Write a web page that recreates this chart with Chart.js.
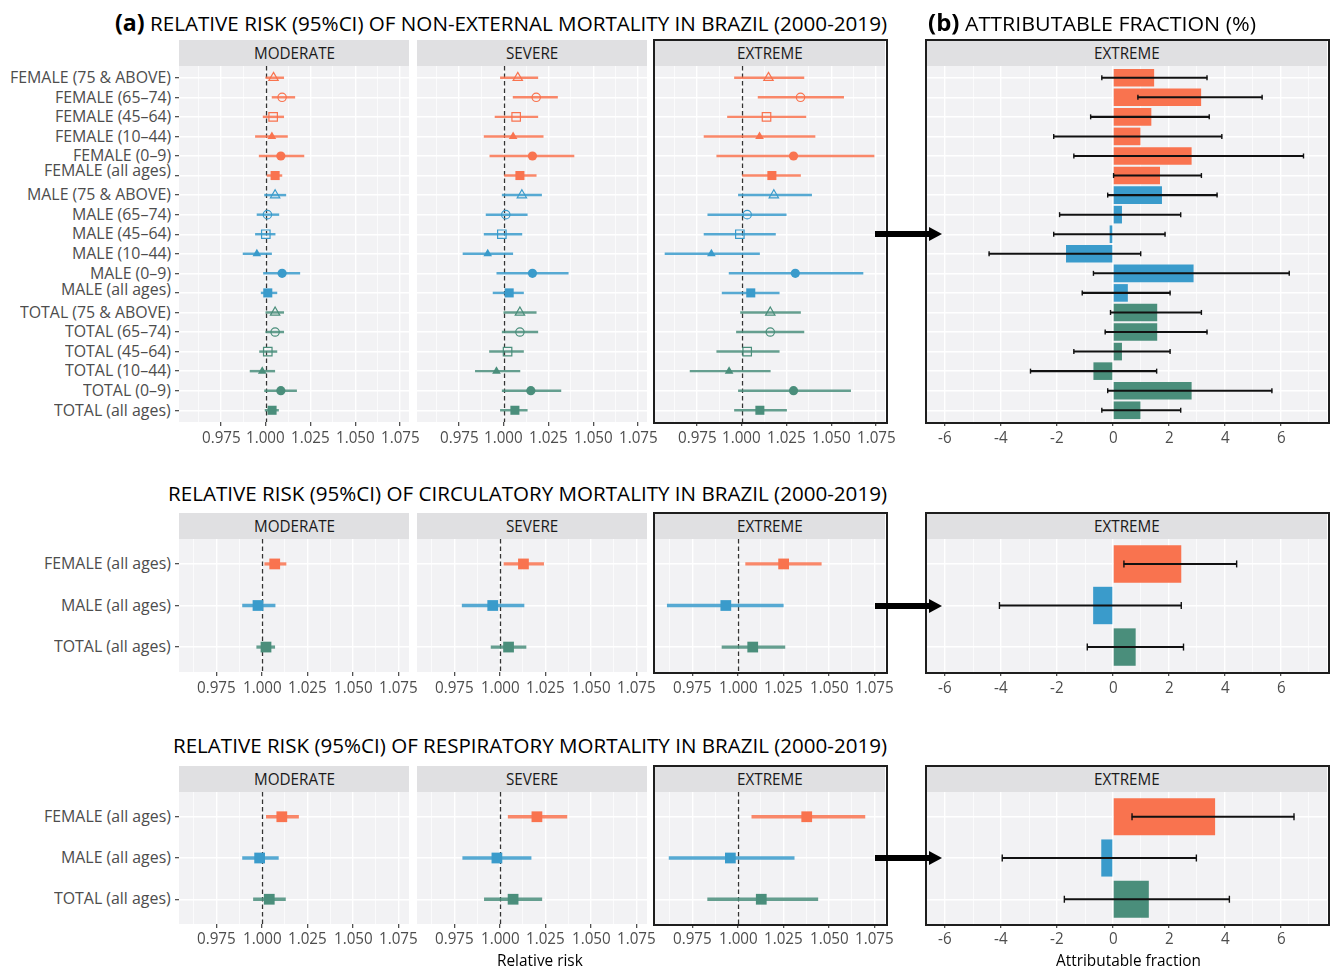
<!DOCTYPE html>
<html><head><meta charset="utf-8">
<script src="https://cdn.jsdelivr.net/npm/chart.js@4"></script>
<style>
html,body{margin:0;padding:0;background:#fff;}
body{width:1330px;height:970px;position:relative;overflow:hidden;font-family:'Open Sans',sans-serif;}
canvas{position:absolute;}
.txt{position:absolute;white-space:nowrap;transform-origin:0 50%;line-height:1;font-family:'Open Sans',sans-serif;}
.strip{position:absolute;background:#E0E0E2;}
.frame{position:absolute;border:2.5px solid #1e1e1e;box-sizing:border-box;}
.arr{position:absolute;background:#000;}
.head{position:absolute;width:0;height:0;border-top:7px solid transparent;border-bottom:7px solid transparent;border-left:13px solid #000;}
</style></head><body>
<script>
// ---------------- DATA ----------------
const catsNonExt = ['FEMALE (75 & ABOVE)','FEMALE (65–74)','FEMALE (45–64)','FEMALE (10–44)','FEMALE (0–9)','FEMALE (all ages)',
  'MALE (75 & ABOVE)','MALE (65–74)','MALE (45–64)','MALE (10–44)','MALE (0–9)','MALE (all ages)',
  'TOTAL (75 & ABOVE)','TOTAL (65–74)','TOTAL (45–64)','TOTAL (10–44)','TOTAL (0–9)','TOTAL (all ages)'];
const catsAll = ['FEMALE (all ages)','MALE (all ages)','TOTAL (all ages)'];

const rrTicks = [0.975, 1.000, 1.025, 1.050, 1.075];
const rrTickLabels = ['0.975','1.000','1.025','1.050','1.075'];
const rrMinor = [0.9625, 0.9875, 1.0125, 1.0375, 1.0625];
const afTicks = [-6, -4, -2, 0, 2, 4, 6];
const afTickLabels = ['-6','-4','-2','0','2','4','6'];
const afMinor = [-5, -3, -1, 1, 3, 5, 7];

// Non-external mortality: relative risk (point, lower, upper)
const neModRR = [1.0043,1.0091,1.0041,1.0034,1.0084,1.0052, 1.0052,1.0009,1.0000,0.9950,1.0091,1.0011, 1.0052,1.0052,1.0011,0.9980,1.0084,1.0035];
const neModLo = [1.0000,1.0035,0.9985,0.9942,0.9963,1.0007, 0.9993,0.9951,0.9942,0.9873,0.9987,0.9974, 1.0000,1.0000,0.9965,0.9912,0.9993,0.9996];
const neModHi = [1.0100,1.0162,1.0100,1.0121,1.0213,1.0090, 1.0112,1.0073,1.0052,1.0032,1.0190,1.0062, 1.0100,1.0100,1.0062,1.0050,1.0172,1.0071];
const neSevRR = [1.0078,1.0181,1.0069,1.0052,1.0160,1.0090, 1.0101,1.0011,0.9989,0.9910,1.0160,1.0030, 1.0090,1.0090,1.0021,0.9959,1.0151,1.0062];
const neSevLo = [0.9981,1.0052,0.9951,0.9890,0.9922,1.0004, 0.9991,0.9901,0.9890,0.9772,0.9961,0.9940, 1.0000,0.9991,0.9920,0.9841,0.9991,0.9981];
const neSevHi = [1.0190,1.0300,1.0190,1.0220,1.0392,1.0181, 1.0211,1.0131,1.0101,1.0050,1.0360,1.0110, 1.0181,1.0190,1.0110,1.0090,1.0319,1.0131];
const neExtRR = [1.0149,1.0328,1.0138,1.0099,1.0289,1.0168, 1.0179,1.0030,0.9989,0.9830,1.0299,1.0050, 1.0159,1.0159,1.0030,0.9929,1.0289,1.0101];
const neExtLo = [0.9959,1.0091,0.9920,0.9789,0.9860,1.0004, 0.9981,0.9810,0.9789,0.9571,0.9929,0.9890, 0.9993,0.9970,0.9860,0.9711,0.9981,0.9959];
const neExtHi = [1.0347,1.0569,1.0358,1.0409,1.0739,1.0328, 1.0390,1.0248,1.0188,1.0099,1.0677,1.0209, 1.0328,1.0347,1.0209,1.0159,1.0608,1.0250];
// Non-external mortality: attributable fraction (%)
const neAF   = [1.47,3.15,1.37,0.98,2.81,1.68, 1.75,0.32,-0.12,-1.68,2.88,0.53, 1.58,1.58,0.32,-0.70,2.81,0.98];
const neAFLo = [-0.40,0.89,-0.80,-2.12,-1.40,0.02, -0.19,-1.91,-2.12,-4.43,-0.70,-1.10, -0.09,-0.28,-1.40,-2.95,-0.19,-0.40];
const neAFHi = [3.36,5.33,3.44,3.89,6.81,3.16, 3.72,2.42,1.86,0.99,6.30,2.04, 3.16,3.36,2.04,1.56,5.68,2.42];

// Circulatory mortality
const ciModRR = [1.0069,0.9977,1.0021], ciModLo = [1.0014,0.9892,0.9970], ciModHi = [1.0131,1.0071,1.0069];
const ciSevRR = [1.0128,0.9959,1.0046], ciSevLo = [1.0021,0.9791,0.9950], ciSevHi = [1.0239,1.0131,1.0142];
const ciExtRR = [1.0250,0.9932,1.0080], ciExtLo = [1.0041,0.9610,0.9911], ciExtHi = [1.0457,1.0248,1.0257];
const ciAF = [2.44,-0.71,0.81], ciAFLo = [0.39,-4.06,-0.92], ciAFHi = [4.42,2.44,2.52];

// Respiratory mortality
const reModRR = [1.0108,0.9986,1.0039], reModLo = [1.0023,0.9892,0.9952], reModHi = [1.0200,1.0089,1.0128];
const reSevRR = [1.0202,0.9982,1.0071], reSevLo = [1.0044,0.9794,0.9913], reSevHi = [1.0367,1.0170,1.0229];
const reExtRR = [1.0377,0.9957,1.0127], reExtLo = [1.0075,0.9620,0.9832], reExtHi = [1.0697,1.0308,1.0438];
const reAF = [3.65,-0.42,1.28], reAFLo = [0.68,-3.96,-1.74], reAFHi = [6.47,2.98,4.16];

const severityNames = ['MODERATE','SEVERE','EXTREME'];

// ---------------- STYLE / LAYOUT ----------------
const COLORS = ['#F9734F','#3A9BCB','#4A8E7B'];
const LINE_COLORS = ['rgba(249,115,79,0.85)','rgba(58,155,203,0.85)','rgba(74,142,123,0.85)'];
const PANEL_BG = '#F2F2F4';
const TICK = 4;
const COLX = [[179,409],[417,647],[655,885]];
const AFX = [927,1327];
const AF_RANGE = [-6.65, 7.65];
const ROWS = [
  {stripTop:40, plotTop:66, plotBot:422, tickY:438, rr:[0.9515,1.0800], errW:1.8},
  {stripTop:513, plotTop:539, plotBot:672, tickY:688, rr:[0.95425,1.08075], errW:2.6},
  {stripTop:766, plotTop:792, plotBot:924, tickY:939, rr:[0.95425,1.08075], errW:2.6},
];
const ageShapes = ['triangle','circle','rect','triangle','circle','rect'];
const ageFilled = [false,false,false,true,true,true];
const ageRadius = [5.4,4.2,6.0,5.0,4.6,6.4];
const labelNudgeNonExt = [0,0,0,0,0,-5, 0,0,0,0,0,-3, 0,0,0,0,0,0];

const SECTIONS = [
  {cats:catsNonExt, rr:[neModRR,neSevRR,neExtRR], lo:[neModLo,neSevLo,neExtLo], hi:[neModHi,neSevHi,neExtHi],
   af:neAF, afLo:neAFLo, afHi:neAFHi, arrowAt:9, nudge:labelNudgeNonExt,
   colorIdx:i=>Math.floor(i/6), shape:i=>ageShapes[i%6], filled:i=>ageFilled[i%6], radius:i=>ageRadius[i%6]},
  {cats:catsAll, rr:[ciModRR,ciSevRR,ciExtRR], lo:[ciModLo,ciSevLo,ciExtLo], hi:[ciModHi,ciSevHi,ciExtHi],
   af:ciAF, afLo:ciAFLo, afHi:ciAFHi, arrowAt:2, nudge:[0,0,0],
   colorIdx:i=>i, shape:()=>'rect', filled:()=>true, radius:()=>7.6},
  {cats:catsAll, rr:[reModRR,reSevRR,reExtRR], lo:[reModLo,reSevLo,reExtLo], hi:[reModHi,reSevHi,reExtHi],
   af:reAF, afLo:reAFLo, afHi:reAFHi, arrowAt:2, nudge:[0,0,0],
   colorIdx:i=>i, shape:()=>'rect', filled:()=>true, radius:()=>7.6},
];

// ---------------- CHART.JS HELPERS ----------------
Chart.register({
  id:'panel',
  defaults:{ref:false},
  beforeDraw(chart){
    const {ctx, chartArea:a} = chart;
    ctx.save(); ctx.fillStyle = PANEL_BG;
    ctx.fillRect(a.left, a.top, a.right - a.left, a.bottom - a.top);
    ctx.restore();
  },
  beforeDatasetsDraw(chart, args, opts){
    if (!opts.ref) return;
    const {ctx, chartArea:a} = chart;
    const x = Math.round(chart.scales.x.getPixelForValue(1)) + 0.5;
    ctx.save(); ctx.strokeStyle = '#333'; ctx.lineWidth = 1.3; ctx.setLineDash([4.5,3]);
    ctx.beginPath(); ctx.moveTo(x, a.top); ctx.lineTo(x, a.bottom); ctx.stroke();
    ctx.restore();
  }
});

function isIn(arr, v){ return arr.some(t => Math.abs(t - v) < 1e-9); }
function xScale(range, major, minor){
  const all = [...major, ...minor].sort((a,b)=>a-b);
  return {type:'linear', min:range[0], max:range[1], bounds:'data', offset:false,
    afterBuildTicks: ax => { ax.ticks = all.map(v => ({value:v})); },
    afterFit: ax => { ax.height = TICK; },
    ticks:{display:false, autoSkip:false},
    border:{display:false},
    grid:{color:'#ffffff', offset:false, drawTicks:true, tickLength:TICK,
      lineWidth: c => (c.tick && isIn(major, c.tick.value)) ? 1.4 : 0.7,
      tickColor: c => (c.tick && isIn(major, c.tick.value)) ? '#333333' : 'rgba(0,0,0,0)',
      tickWidth: 1.1}
  };
}
function yScale(n, marks){
  return {type:'linear', reverse:true, min:0.4, max:n + 0.6, bounds:'data', offset:false,
    afterBuildTicks: ax => { ax.ticks = Array.from({length:n}, (_, i) => ({value:i + 1})); },
    afterFit: ax => { ax.width = TICK; },
    ticks:{display:false, autoSkip:false},
    border:{display:false},
    grid:{color:'#ffffff', lineWidth:1.4, offset:false, drawTicks:true, tickLength:TICK,
      tickColor: marks ? '#333333' : 'rgba(0,0,0,0)', tickWidth:1.1}
  };
}
const COMMON = {animation:false, responsive:false, maintainAspectRatio:false, devicePixelRatio:1, events:[],
  layout:{padding:0, autoPadding:false}};

function makeCanvas(x0, x1, row){
  const c = document.createElement('canvas');
  const w = (x1 - x0) + TICK, h = (row.plotBot - row.plotTop) + TICK;
  c.width = w; c.height = h;
  c.style.left = (x0 - TICK) + 'px'; c.style.top = row.plotTop + 'px';
  c.style.width = w + 'px'; c.style.height = h + 'px';
  document.body.appendChild(c);
  return c;
}

function rrChart(canvas, row, sec, k, marks){
  const n = sec.cats.length, idx = sec.cats.map((_, i) => i);
  const rr = sec.rr[k], lo = sec.lo[k], hi = sec.hi[k];
  return new Chart(canvas, {
    type:'scatter',
    data:{datasets:[
      {type:'scatter', indexAxis:'x', order:0, data: rr.map((v, i) => ({x:v, y:i + 1})),
        pointStyle: idx.map(sec.shape), pointRadius: idx.map(sec.radius),
        pointBackgroundColor: idx.map(i => sec.filled(i) ? COLORS[sec.colorIdx(i)] : 'rgba(0,0,0,0)'),
        pointBorderColor: idx.map(i => COLORS[sec.colorIdx(i)]),
        pointBorderWidth: idx.map(i => sec.filled(i) ? 0 : 1.2)},
      {type:'bar', indexAxis:'y', order:1, grouped:false, barThickness: row.errW, borderWidth:0,
        data: lo.map((v, i) => ({y:i + 1, x:[v, hi[i]]})),
        backgroundColor: idx.map(i => LINE_COLORS[sec.colorIdx(i)])}
    ]},
    options:{...COMMON, plugins:{legend:{display:false}, tooltip:{enabled:false}, panel:{ref:true}},
      scales:{x: xScale(row.rr, rrTicks, rrMinor), y: yScale(n, marks)}}
  });
}

function afChart(canvas, row, sec){
  const n = sec.cats.length, idx = sec.cats.map((_, i) => i);
  return new Chart(canvas, {
    type:'bar',
    data:{datasets:[
      {type:'scatter', indexAxis:'x', order:0,
        data: [...sec.afLo.map((v, i) => ({x:v, y:i + 1})), ...sec.afHi.map((v, i) => ({x:v, y:i + 1}))],
        pointStyle:'line', pointRotation:90, pointRadius: n > 3 ? 2.5 : 3.5,
        pointBorderColor:'#111', pointBorderWidth:1.4},
      {type:'bar', indexAxis:'y', order:1, grouped:false, barThickness:1.4, borderWidth:0,
        backgroundColor:'#111', data: sec.afLo.map((v, i) => ({y:i + 1, x:[v, sec.afHi[i]]}))},
      {type:'bar', indexAxis:'y', order:2, grouped:false, barPercentage:0.9, categoryPercentage:1, borderWidth:0,
        backgroundColor: idx.map(i => COLORS[sec.colorIdx(i)]),
        data: sec.af.map((v, i) => ({y:i + 1, x:v}))}
    ]},
    options:{...COMMON, indexAxis:'y', plugins:{legend:{display:false}, tooltip:{enabled:false}, panel:{ref:false}},
      scales:{x: xScale(AF_RANGE, afTicks, afMinor), y: yScale(n, false)}}
  });
}

// ---------------- TEXT HELPERS ----------------
function measure(str, size, weight){
  const el = document.createElement('div');
  el.className = 'txt'; el.style.fontSize = size + 'px'; el.style.fontWeight = weight || 400;
  el.style.visibility = 'hidden'; el.textContent = str;
  document.body.appendChild(el);
  const w = el.getBoundingClientRect().width; el.remove(); return w;
}
function addText(content, x, y, o){
  const el = document.createElement('div');
  el.className = 'txt';
  el.style.fontSize = o.size + 'px'; el.style.fontWeight = o.weight || 400;
  el.style.color = o.color || '#000';
  if (o.html) el.innerHTML = content; else el.textContent = content;
  document.body.appendChild(el);
  const w = el.getBoundingClientRect().width;
  const sx = o.fit ? o.fit / w : (o.sx || 1);
  const sw = w * sx;
  const left = o.align === 'right' ? x - sw : (o.align === 'center' ? x - sw / 2 : x);
  el.style.left = left + 'px';
  el.style.top = (y - 0.531 * o.size) + 'px';
  el.style.transform = 'scaleX(' + sx + ')';
  return el;
}
function box(cls, x, y, w, h){
  const d = document.createElement('div'); d.className = cls;
  d.style.left = x + 'px'; d.style.top = y + 'px'; d.style.width = w + 'px'; d.style.height = h + 'px';
  document.body.appendChild(d); return d;
}

// ---------------- BUILD ----------------
const SX_Y = 161 / measure('FEMALE (75 & ABOVE)', 16.5);
const SX_T = 38.7 / measure('0.975', 16.5);
const SX_S = 81 / measure('MODERATE', 16);
const SX_A = 145 / measure('Attributable fraction', 16.5);

SECTIONS.forEach((sec, r) => {
  const row = ROWS[r];
  // strips
  COLX.forEach((cx, k) => {
    box('strip', cx[0], row.stripTop, cx[1] - cx[0], row.plotTop - row.stripTop);
    addText(severityNames[k], (cx[0] + cx[1]) / 2, (row.stripTop + row.plotTop) / 2, {size:16, sx:SX_S, color:'#1A1A1A', align:'center'});
  });
  box('strip', AFX[0], row.stripTop, AFX[1] - AFX[0], row.plotTop - row.stripTop);
  addText('EXTREME', (AFX[0] + AFX[1]) / 2, (row.stripTop + row.plotTop) / 2, {size:16, sx:SX_S, color:'#1A1A1A', align:'center'});

  // RR panels
  COLX.forEach((cx, k) => {
    const cv = makeCanvas(cx[0], cx[1], row);
    const ch = rrChart(cv, row, sec, k, k === 0);
    const xs = ch.scales.x;
    rrTicks.forEach((v, j) => addText(rrTickLabels[j], cx[0] - TICK + xs.getPixelForValue(v), row.tickY,
      {size:16.5, sx:SX_T, color:'#4D4D4D', align:'center'}));
    if (k === 0) {
      const ys = ch.scales.y;
      sec.cats.forEach((c, i) => addText(c, cx[0] - 8, row.plotTop + ys.getPixelForValue(i + 1) + sec.nudge[i],
        {size:16.5, sx:SX_Y, color:'#4D4D4D', align:'right'}));
    }
  });
  // AF panel
  const cv = makeCanvas(AFX[0], AFX[1], row);
  const ach = afChart(cv, row, sec);
  afTicks.forEach((v, j) => addText(afTickLabels[j], AFX[0] - TICK + ach.scales.x.getPixelForValue(v), row.tickY,
    {size:16.5, sx:SX_T, color:'#4D4D4D', align:'center'}));

  // frames
  box('frame', COLX[2][0] - 2.5, row.stripTop - 1, COLX[2][1] - COLX[2][0] + 5, row.plotBot - row.stripTop + 3);
  box('frame', AFX[0] - 2.5, row.stripTop - 1, AFX[1] - AFX[0] + 5, row.plotBot - row.stripTop + 3);

  // arrow
  const ay = row.plotTop + ach.scales.y.getPixelForValue(sec.arrowAt);
  box('arr', 875, ay - 3, 56, 6);
  const hd = document.createElement('div'); hd.className = 'head';
  hd.style.left = '929px'; hd.style.top = (ay - 7) + 'px'; document.body.appendChild(hd);
});

// titles
addText('<b style="font-size:23px">(a)</b> RELATIVE RISK (95%CI) OF NON-EXTERNAL MORTALITY IN BRAZIL (2000-2019)', 115, 22, {size:20.5, html:true, fit:772, color:'#000'});
addText('<b style="font-size:23px">(b)</b> ATTRIBUTABLE FRACTION (%)', 928, 22, {size:20.5, html:true, fit:328, color:'#000'});
addText('RELATIVE RISK (95%CI) OF CIRCULATORY MORTALITY IN BRAZIL (2000-2019)', 168, 494, {size:20.5, fit:719, color:'#000'});
addText('RELATIVE RISK (95%CI) OF RESPIRATORY MORTALITY IN BRAZIL (2000-2019)', 173, 746, {size:20.5, fit:714, color:'#000'});
addText('Relative risk', 540, 961, {size:16.5, sx:SX_A, color:'#000', align:'center'});
addText('Attributable fraction', 1128, 961, {size:16.5, sx:SX_A, color:'#000', align:'center'});
</script>
</body></html>
